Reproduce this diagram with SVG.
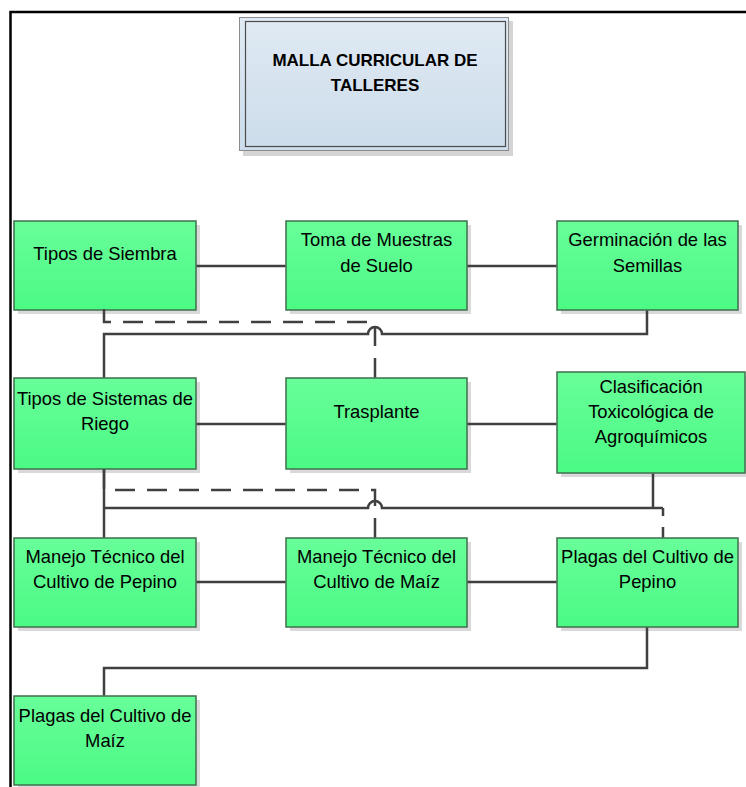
<svg xmlns="http://www.w3.org/2000/svg" width="746" height="787" viewBox="0 0 746 787">
<style>
  .box { fill: url(#gfill); stroke: #3f6f4c; stroke-width: 1.5; }
  .shadow { fill: #d9d9d9; }
  .lbl { font-family: "Liberation Sans", Arial, sans-serif; font-size: 18.4px; fill: #000; text-anchor: middle; }
  .title { font-family: "Liberation Sans", Arial, sans-serif; font-size: 17px; font-weight: bold; fill: #000; text-anchor: middle; }
  .conn { fill: none; stroke: #404040; stroke-width: 2.5; }
  .dash { stroke-dasharray: 20 12; }
  .frame { stroke: #000; stroke-width: 2.5; fill: none; }
</style>
<defs>
  <linearGradient id="gfill" x1="0" y1="0" x2="0" y2="1">
    <stop offset="0" stop-color="#68fe99"/>
    <stop offset="1" stop-color="#4bfa85"/>
  </linearGradient>
  <linearGradient id="tfill" x1="0" y1="0" x2="0" y2="1">
    <stop offset="0" stop-color="#e0eaf4"/>
    <stop offset="1" stop-color="#ccdcea"/>
  </linearGradient>
</defs>
<rect width="746" height="787" fill="#fff"/>
<path class="frame" d="M10.5,787 V12 H746"/>

<g id="title">
  <rect x="243" y="21" width="270" height="135" fill="#d4d4d4"/>
  <rect x="239.5" y="17.5" width="269" height="133" fill="url(#tfill)" stroke="#8c8c8c" stroke-width="1"/>
  <rect x="245.5" y="21.5" width="260" height="125" fill="none" stroke="#4d4d4d" stroke-width="1.2"/>
  <text class="title" x="375" y="66">MALLA CURRICULAR DE</text>
  <text class="title" x="375" y="91">TALLERES</text>
</g>

<g id="n1">
  <rect class="shadow" x="18" y="225" width="182" height="89"/>
  <rect class="box" x="14" y="221" width="182" height="89"/>
  <text class="lbl" x="105" y="260">Tipos de Siembra</text>
</g>
<g id="n2">
  <rect class="shadow" x="290" y="225" width="181" height="89"/>
  <rect class="box" x="286" y="221" width="181" height="89"/>
  <text class="lbl" x="376.5" y="246">Toma de Muestras</text>
  <text class="lbl" x="376.5" y="272">de Suelo</text>
</g>
<g id="n3">
  <rect class="shadow" x="561" y="225" width="181" height="89"/>
  <rect class="box" x="557" y="221" width="181" height="89"/>
  <text class="lbl" x="647.5" y="246">Germinación de las</text>
  <text class="lbl" x="647.5" y="272">Semillas</text>
</g>
<g id="n4">
  <rect class="shadow" x="18" y="382" width="182" height="91"/>
  <rect class="box" x="14" y="378" width="182" height="91"/>
  <text class="lbl" x="105" y="405">Tipos de Sistemas de</text>
  <text class="lbl" x="105" y="430">Riego</text>
</g>
<g id="n5">
  <rect class="shadow" x="290" y="382" width="181" height="91"/>
  <rect class="box" x="286" y="378" width="181" height="91"/>
  <text class="lbl" x="376.5" y="418">Trasplante</text>
</g>
<g id="n6">
  <rect class="shadow" x="561" y="376" width="188" height="101"/>
  <rect class="box" x="557" y="372" width="188" height="101"/>
  <text class="lbl" x="651" y="393">Clasificación</text>
  <text class="lbl" x="651" y="418">Toxicológica de</text>
  <text class="lbl" x="651" y="443">Agroquímicos</text>
</g>
<g id="n7">
  <rect class="shadow" x="18" y="542" width="182" height="89"/>
  <rect class="box" x="14" y="538" width="182" height="89"/>
  <text class="lbl" x="105" y="563">Manejo Técnico del</text>
  <text class="lbl" x="105" y="588">Cultivo de Pepino</text>
</g>
<g id="n8">
  <rect class="shadow" x="290" y="542" width="181" height="89"/>
  <rect class="box" x="286" y="538" width="181" height="89"/>
  <text class="lbl" x="376.5" y="563">Manejo Técnico del</text>
  <text class="lbl" x="376.5" y="588">Cultivo de Maíz</text>
</g>
<g id="n9">
  <rect class="shadow" x="561" y="542" width="181" height="89"/>
  <rect class="box" x="557" y="538" width="181" height="89"/>
  <text class="lbl" x="647.5" y="563">Plagas del Cultivo de</text>
  <text class="lbl" x="647.5" y="588">Pepino</text>
</g>
<g id="n10">
  <rect class="shadow" x="18" y="700" width="182" height="89"/>
  <rect class="box" x="14" y="696" width="182" height="89"/>
  <text class="lbl" x="105" y="722">Plagas del Cultivo de</text>
  <text class="lbl" x="105" y="747">Maíz</text>
</g>

<g id="connectors">
  <path class="conn" d="M196.5,266 H285.5 M467.5,266 H556.5"/>
  <path class="conn" d="M196.5,424 H285.5 M467.5,424 H556.5"/>
  <path class="conn" d="M196.5,582 H285.5 M467.5,582 H556.5"/>
  <path class="conn" d="M647,310.5 V334 H382 A7,7 0 0 0 368,334 H104 V377.5"/>
  <path class="conn dash" d="M104,309 V322 H375 V377.5"/>
  <path class="conn" d="M104,469.5 V537.5"/>
  <path class="conn" d="M653,473.5 V508 M663,508 H382 A7,7 0 0 0 368,508 H104"/>
  <path class="conn dash" d="M104,469 V490 H375 V537.5"/>
  <path class="conn" d="M663,508 V516 M663,527 V537.5"/>
  <path class="conn" d="M647,627.5 V668 H104 V695.5"/>
</g>
</svg>
